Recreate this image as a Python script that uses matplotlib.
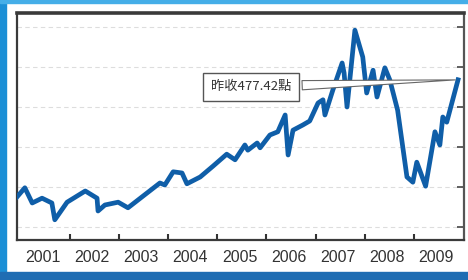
import matplotlib.pyplot as plt
from matplotlib.patches import Rectangle
from matplotlib.ticker import FixedLocator, NullFormatter

plt.rcParams['font.family'] = ['Noto Sans CJK TC', 'DejaVu Sans']

# index level (decimal year, points)
years = [2000.92, 2001.08, 2001.23, 2001.43, 2001.63, 2001.69, 2001.94, 2002.31,
         2002.55, 2002.57, 2002.71, 2002.98, 2003.18, 2003.83, 2003.93, 2004.10,
         2004.28, 2004.38, 2004.65, 2004.91, 2005.19, 2005.36, 2005.56, 2005.62,
         2005.81, 2005.87, 2006.07, 2006.23, 2006.38, 2006.44, 2006.54, 2006.74,
         2006.88, 2007.05, 2007.15, 2007.19, 2007.35, 2007.54, 2007.58, 2007.64,
         2007.80, 2007.96, 2008.04, 2008.17, 2008.25, 2008.41, 2008.51, 2008.67,
         2008.86, 2008.98, 2009.06, 2009.24, 2009.43, 2009.53, 2009.59, 2009.67,
         2009.90]
index = [175, 198, 160, 172, 160, 118, 162, 190,
         172, 140, 155, 162, 148, 210, 205, 238,
         235, 208, 225, 252, 282, 268, 305, 292,
         310, 298, 330, 338, 380, 280, 342, 355,
         365, 410, 418, 380, 442, 510, 485, 400,
         592, 525, 435, 492, 425, 498, 468, 392,
         225, 212, 262, 202, 338, 305, 375, 362,
         468]
year_labels = ['2001', '2002', '2003', '2004', '2005', '2006', '2007', '2008', '2009']
grid_levels = [100, 200, 300, 400, 500, 600]
note = '昨收477.42點'

fig = plt.figure(figsize=(4.68, 2.8), dpi=100)
ax = fig.add_axes([0.0363, 0.1429, 0.955, 0.8107])

# blue frame of the picture
fig.patches.append(Rectangle((0, 0), 6 / 468, 1, transform=fig.transFigure,
                             color='#1b8fd6', zorder=0))
fig.patches.append(Rectangle((0, 1 - 3 / 280), 1, 3 / 280, transform=fig.transFigure,
                             color='#45aee8', zorder=0))
fig.patches.append(Rectangle((0, 0), 1, 8 / 280, transform=fig.transFigure,
                             color='#1f6db3', zorder=0))

ax.plot(years, index, color='#0f5ea8', lw=3.4, solid_joinstyle='round', zorder=3)

ax.set_xlim(2000.92, 2010.02)
ax.set_ylim(67.5, 635)

for g in grid_levels:
    ax.axhline(g, color='#dddddd', lw=0.8, ls=(0, (4, 3)), zorder=1)

# x: ticks at year boundaries, labels in between
starts = [int(y) + 1 for y in year_labels[:-1]]
ax.xaxis.set_major_locator(FixedLocator(starts))
ax.xaxis.set_major_formatter(NullFormatter())
ax.xaxis.set_minor_locator(FixedLocator([int(y) + 0.45 for y in year_labels]))
ax.set_xticklabels(year_labels, minor=True)
ax.tick_params(axis='x', which='major', direction='in', length=4, width=1.5,
               color='#333333')
ax.tick_params(axis='x', which='minor', length=0, pad=7, labelsize=11.5,
               labelcolor='#333333')
for lab in ax.get_xticklabels(minor=True):
    lab.set_family('Liberation Sans')

ax.yaxis.tick_right()
ax.set_yticks(grid_levels)
ax.tick_params(axis='y', direction='in', length=5, width=1.2, color='#444444',
               labelright=False)

for side, sp in ax.spines.items():
    sp.set_color('#3a3a3a')
    sp.set_linewidth(1.6)
ax.spines['top'].set_linewidth(2.6)
ax.spines['right'].set_color('#555555')

ax.annotate(note, xy=(years[-1], index[-1]), xytext=(2005.68, 450),
            ha='center', va='center', fontsize=9.5, color='#333333',
            bbox=dict(boxstyle='square,pad=0.6', fc='white', ec='#555555', lw=1),
            arrowprops=dict(arrowstyle='wedge,tail_width=0.7,shrink_factor=0.5',
                            fc='white', ec='#666666', lw=0.8),
            zorder=5)

fig.savefig('out.png', dpi=100)
